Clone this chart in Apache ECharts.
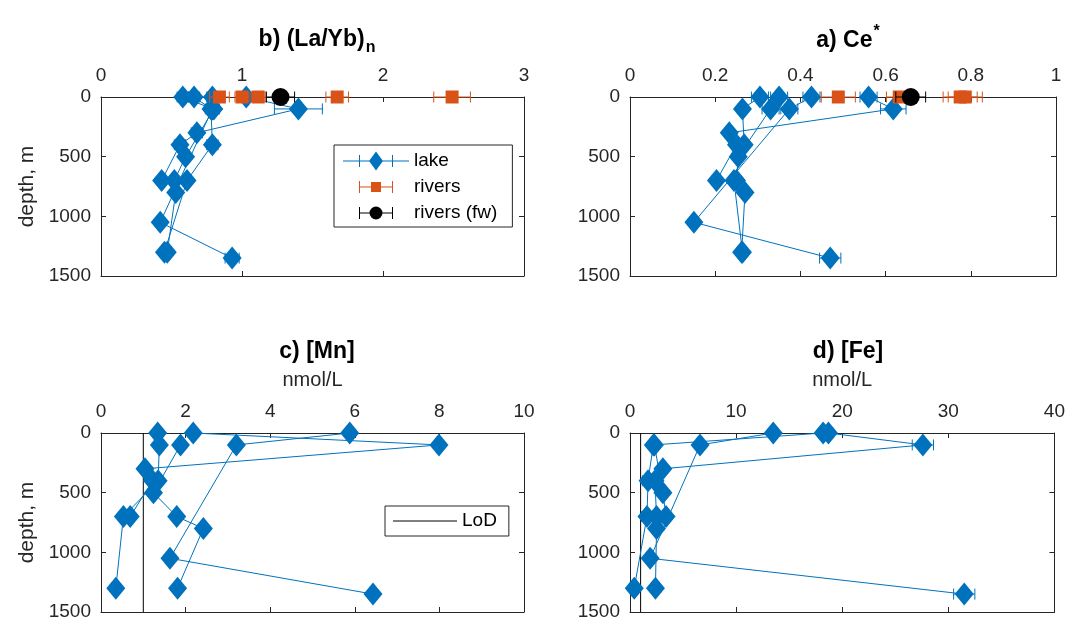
<!DOCTYPE html>
<html>
<head>
<meta charset="utf-8">
<script src="https://cdn.jsdelivr.net/npm/echarts@6/dist/echarts.min.js"></script>
<style>html,body{margin:0;background:#fff}#chart{width:1068px;height:622px}</style>
</head>
<body>
<div id="chart"></div>
<script>
// sample depths of the lake profiles, m
var profileDepths = [
  [0, 100, 1050, 1350],
  [0, 100, 300, 400, 700],
  [0, 100, 400, 700, 1300],
  [0, 100, 500, 700, 800, 1300]
];

// b) (La/Yb)n
var laybLake = [
  [0.58, 0.79, 0.42, 0.93],
  [1.03, 1.40, 0.68, 0.56, 0.43],
  [0.66, 0.78, 0.79, 0.61, 0.45],
  [0.79, 0.80, 0.60, 0.52, 0.53, 0.47]
];
var laybLakeErr = [
  [0.04, 0.04, 0.03, 0.05],
  [0.05, 0.17, 0.04, 0.04, 0.03],
  [0.04, 0.04, 0.04, 0.03, 0.03],
  [0.04, 0.04, 0.03, 0.03, 0.03, 0.03]
];
var laybRivers = [0.84, 1.00, 1.115, 1.675, 2.49];
var laybRiversErr = [0.07, 0.05, 0.05, 0.08, 0.13];
var laybFw = [1.273];
var laybFwErr = [0.10];

// a) Ce*
var ceLake = [
  [0.426, 0.374, 0.15, 0.47],
  [0.56, 0.618, 0.233, 0.25, 0.203],
  [0.305, 0.264, 0.268, 0.244, 0.264],
  [0.35, 0.33, 0.254, 0.25, 0.27, 0.262]
];
var ceLakeErr = [
  [0.02, 0.02, 0.01, 0.025],
  [0.02, 0.03, 0.01, 0.01, 0.01],
  [0.02, 0.01, 0.01, 0.01, 0.01],
  [0.02, 0.02, 0.01, 0.01, 0.01, 0.01]
];
var ceRivers = [0.489, 0.632, 0.775, 0.787];
var ceRiversErr = [0.04, 0.03, 0.04, 0.04];
var ceFw = [0.659];
var ceFwErr = [0.035];

// c) [Mn], nmol/L
var mnLake = [
  [5.88, 3.2, 1.63, 6.43],
  [2.18, 7.99, 1.04, 1.22, 0.69],
  [1.34, 1.38, 1.35, 0.53, 0.35],
  [null, 1.88, 1.24, 1.79, 2.42, 1.81]
];
var mnLakeErr = [
  [0.03, 0.03, 0.03, 0.03],
  [0.03, 0.03, 0.03, 0.03, 0.03],
  [0.03, 0.03, 0.03, 0.03, 0.03],
  [0, 0.03, 0.03, 0.03, 0.03, 0.03]
];
var mnLoD = 1.0;

// d) [Fe], nmol/L
var feLake = [
  [13.5, 6.6, 1.9, 31.5],
  [18.7, 27.6, 3.1, 2.35, 2.5],
  [18.2, 2.2, 1.7, 1.6, 0.4],
  [null, 2.3, 3.1, 3.4, 2.5, 2.4]
];
var feLakeErr = [
  [0.3, 0.3, 0.2, 1.0],
  [0.4, 1.0, 0.2, 0.2, 0.2],
  [0.4, 0.2, 0.5, 0.5, 0.4],
  [0, 0.2, 0.2, 0.2, 0.2, 0.2]
];
var feLoD = 1.0;

var depthTicks = [0, 1500, 500];

var FONT = "'Liberation Sans', Arial, Helvetica, sans-serif";
var AX = '#262626';
var BLUE = '#0072BD';
var ORANGE = '#D95319';

var chart = echarts.init(document.getElementById('chart'));

function errRender(params, api) {
  var y = api.value(2);
  var a = api.coord([api.value(0), y]);
  var b = api.coord([api.value(1), y]);
  var h = 5.5;
  var st = {stroke: api.visual('color'), lineWidth: 1};
  return {type: 'group', children: [
    {type: 'line', shape: {x1: a[0], y1: a[1], x2: b[0], y2: b[1]}, style: st},
    {type: 'line', shape: {x1: a[0], y1: a[1] - h, x2: a[0], y2: a[1] + h}, style: st},
    {type: 'line', shape: {x1: b[0], y1: b[1] - h, x2: b[0], y2: b[1] + h}, style: st}
  ]};
}

function errSeries(g, pts, color, z) {
  return {type: 'custom', xAxisIndex: 2 * g, yAxisIndex: 2 * g, renderItem: errRender,
    encode: {x: [0, 1], y: 2}, itemStyle: {color: color}, z: z, silent: true, data: pts};
}

var series = [];

function addLake(g, vals, errs) {
  profileDepths.forEach(function (dep, p) {
    var line = [], bars = [];
    dep.forEach(function (d, i) {
      var v = vals[p][i];
      if (v === null) return;
      line.push([v, d]);
      bars.push([v - errs[p][i], v + errs[p][i], d]);
    });
    series.push(errSeries(g, bars, BLUE, 2));
    series.push({name: 'lake', type: 'line', xAxisIndex: 2 * g, yAxisIndex: 2 * g,
      data: line, symbol: 'diamond', symbolSize: [19, 23], clip: false, z: 3,
      lineStyle: {width: 1, color: BLUE}, itemStyle: {color: BLUE}});
  });
}

function addRivers(g, vals, errs, name, color, symbol, size, z) {
  series.push(errSeries(g, vals.map(function (v, i) { return [v - errs[i], v + errs[i], 0]; }), color, z));
  series.push({name: name, type: 'scatter', xAxisIndex: 2 * g, yAxisIndex: 2 * g,
    data: vals.map(function (v) { return [v, 0]; }), symbol: symbol, symbolSize: size,
    clip: false, z: z + 0.5, itemStyle: {color: color, opacity: 1}});
}

function addLoD(g, x) {
  series.push({name: 'LoD', type: 'line', xAxisIndex: 2 * g, yAxisIndex: 2 * g,
    data: [[x, depthTicks[0]], [x, depthTicks[1]]], symbol: 'none', z: 1,
    lineStyle: {width: 1, color: '#000'}, itemStyle: {color: '#000'}});
}

addLake(0, laybLake, laybLakeErr);
addRivers(0, laybRivers, laybRiversErr, 'rivers', ORANGE, 'rect', 13, 4);
addRivers(0, laybFw, laybFwErr, 'rivers (fw)', '#000', 'circle', 18, 5);
addLake(1, ceLake, ceLakeErr);
addRivers(1, ceRivers, ceRiversErr, 'rivers', ORANGE, 'rect', 13, 4);
addRivers(1, ceFw, ceFwErr, 'rivers (fw)', '#000', 'circle', 18, 5);
addLoD(2, mnLoD);
addLake(2, mnLake, mnLakeErr);
addLoD(3, feLoD);
addLake(3, feLake, feLakeErr);

var grids = [
  {left: 101, top: 97, width: 423, height: 179},
  {left: 630, top: 97, width: 426, height: 179},
  {left: 101, top: 433, width: 423, height: 179},
  {left: 630, top: 433, width: 426, height: 179}
];
var xRanges = [[0, 3, 1], [0, 1, 0.2], [0, 10, 2], [0, 40, 10]];
var xNames = ['', '', 'nmol/L', 'nmol/L'];

function plain(v) { return String(v); }

var xAxes = [], yAxes = [];
grids.forEach(function (gr, g) {
  var r = xRanges[g];
  var line = {show: true, onZero: false, lineStyle: {color: AX, width: 1}};
  var tick = {show: true, inside: true, length: 5, lineStyle: {color: AX}};
  var lab = {fontSize: 19, color: AX, fontFamily: FONT, margin: 12, formatter: plain};
  xAxes.push({type: 'value', gridIndex: g, position: 'top', min: r[0], max: r[1], interval: r[2],
    name: xNames[g], nameLocation: 'middle', nameGap: 43,
    nameTextStyle: {fontSize: 20, color: AX, fontFamily: FONT},
    axisLine: line, axisTick: tick, axisLabel: lab, splitLine: {show: false}});
  xAxes.push({type: 'value', gridIndex: g, position: 'bottom', min: r[0], max: r[1], interval: r[2],
    axisLine: line, axisTick: tick, axisLabel: {show: false}, splitLine: {show: false}});
  yAxes.push({type: 'value', gridIndex: g, position: 'left', inverse: true,
    min: depthTicks[0], max: depthTicks[1], interval: depthTicks[2],
    name: g % 2 === 0 ? 'depth, m' : '', nameLocation: 'middle', nameGap: 63, nameRotate: 90,
    nameTextStyle: {fontSize: 21, color: AX, fontFamily: FONT},
    axisLine: line, axisTick: tick,
    axisLabel: {fontSize: 19, color: AX, fontFamily: FONT, margin: 10, formatter: plain},
    splitLine: {show: false}});
  yAxes.push({type: 'value', gridIndex: g, position: 'right', inverse: true,
    min: depthTicks[0], max: depthTicks[1], interval: depthTicks[2],
    axisLine: line, axisTick: tick, axisLabel: {show: false}, splitLine: {show: false}});
});

var dots = 'M0,0H0.01V0.01H0Z M65.99,19.99H66V20H65.99Z ';
var caps = 'M16,4H17V16H16Z M49,4H50V16H49Z ';
var lakeIcon = 'path://' + dots + 'M0,9.5H66V10.5H0Z ' + caps + 'M33,0.5L40,10L33,19.5L26,10Z';
var riversIcon = 'path://' + dots + 'M16,9.5H50V10.5H16Z ' + caps + 'M28,5H38V15H28Z';
var fwIcon = 'path://' + dots + 'M16,9.5H50V10.5H16Z ' + caps + 'M33,3.5A6.5,6.5 0 1 1 33,16.5A6.5,6.5 0 1 1 33,3.5Z';
var lodIcon = 'path://M0,0H0.01V0.01H0Z M63.99,19.99H64V20H63.99Z M0,9.5H64V10.5H0Z';

var titleRich = {
  m: {fontSize: 23, fontWeight: 'bold', color: '#000', fontFamily: FONT},
  s: {fontSize: 16, fontWeight: 'bold', color: '#000', fontFamily: FONT, padding: [16, 0, 0, 1]},
  p: {fontSize: 16, fontWeight: 'bold', color: '#000', fontFamily: FONT, padding: [0, 0, 17, 1]}
};

chart.setOption({
  animation: false,
  title: [
    {text: '{m|b) (La/Yb)}{s|n}', left: 312, top: 19, textAlign: 'center', textStyle: {rich: titleRich}},
    {text: '{m|a) Ce}{p|*}', left: 843, top: 19, textAlign: 'center', textStyle: {rich: titleRich}},
    {text: '{m|c) [Mn]}', left: 312, top: 335, textAlign: 'center', textStyle: {rich: titleRich}},
    {text: '{m|d) [Fe]}', left: 843, top: 335, textAlign: 'center', textStyle: {rich: titleRich}}
  ],
  legend: [
    {data: [{name: 'lake', icon: lakeIcon}, {name: 'rivers', icon: riversIcon}, {name: 'rivers (fw)', icon: fwIcon}],
      orient: 'vertical', left: 334, top: 145, itemWidth: 66, itemHeight: 20, itemGap: 6,
      padding: [6, 15, 4, 9], borderColor: AX, borderWidth: 1, backgroundColor: '#fff',
      selectedMode: false, textStyle: {fontSize: 19, color: '#000', fontFamily: FONT}},
    {data: [{name: 'LoD', icon: lodIcon}],
      orient: 'vertical', left: 385, top: 506, itemWidth: 64, itemHeight: 20, itemGap: 6,
      padding: [5, 12, 5, 8], borderColor: AX, borderWidth: 1, backgroundColor: '#fff',
      selectedMode: false, textStyle: {fontSize: 19, color: '#000', fontFamily: FONT}}
  ],
  grid: grids,
  xAxis: xAxes,
  yAxis: yAxes,
  series: series
});
</script>
</body>
</html>
